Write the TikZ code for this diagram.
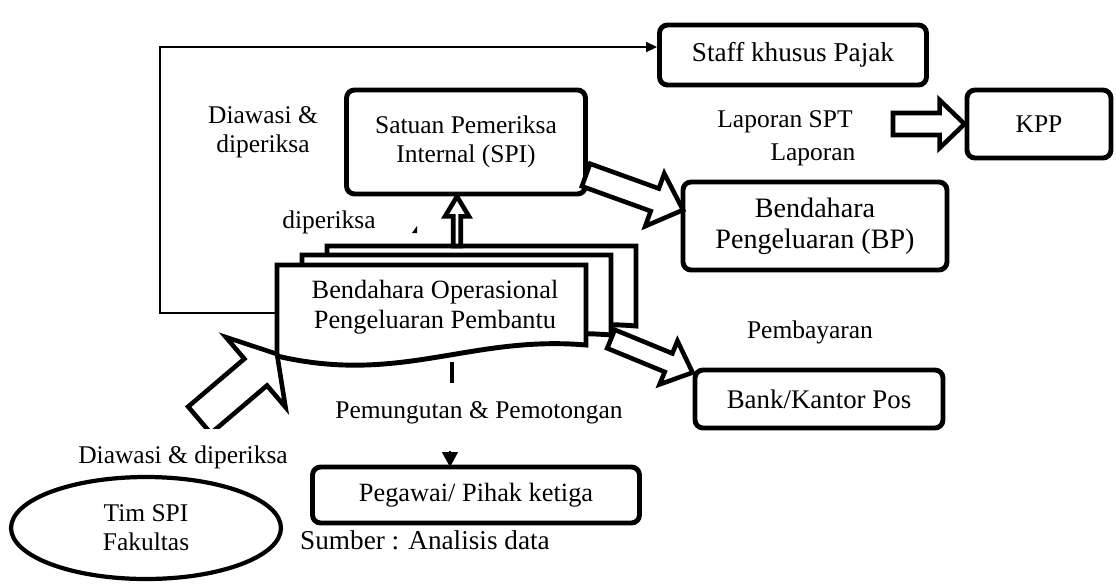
\documentclass[tikz,border=0pt]{standalone}
\usepackage{fontspec}
\setmainfont{Liberation Serif}
\usetikzlibrary{calc,arrows.meta,shapes.geometric,positioning}

\tikzset{
  box/.style={draw, line width=2.8pt, rounded corners=0.16cm, fill=white, align=center, inner sep=0pt},
  lbl/.style={align=center, inner sep=0pt},
  page/.style={draw, line width=2.8pt, fill=white, line join=miter},
  blockarrow/.style={draw, line width=2.6pt, fill=white, line join=miter},
  thinline/.style={line width=1pt},
}
% panah blok: dari #1 ke #2, setengah lebar batang #3, setengah lebar kepala #4, panjang kepala #5
\newcommand{\blockarr}[5]{%
  \path ($(#2)!#5!(#1)$) coordinate (hb);
  \draw[blockarrow] ($(#1)!#3!90:(#2)$) -- ($(hb)!#3!90:(#2)$) -- ($(hb)!#4!90:(#2)$)
    -- (#2) -- ($(hb)!#4!-90:(#2)$) -- ($(hb)!#3!-90:(#2)$) -- ($(#1)!#3!-90:(#2)$) -- cycle;
}

\begin{document}
\begin{tikzpicture}[x=0.02cm,y=-0.02cm,font=\fontsize{14.5}{16.5}\selectfont]
\useasboundingbox (0,0) rectangle (1117,583);

% kotak-kotak
\node[box, minimum width=5.34cm, minimum height=1.2cm, font=\fontsize{15.5}{17}\selectfont] (staff) at (793,55) {Staff khusus Pajak};
\node[box, minimum width=4.78cm, minimum height=2.08cm] (spi) at (466,142) {Satuan Pemeriksa\\Internal (SPI)};
\node[box, minimum width=2.88cm, minimum height=1.36cm] (kpp) at (1039,124) {KPP};
\node[box, minimum width=5.28cm, minimum height=1.76cm, font=\fontsize{16}{17.5}\selectfont] (bp) at (815,226) {Bendahara\\Pengeluaran (BP)};
\node[box, minimum width=4.96cm, minimum height=1.16cm, font=\fontsize{15.3}{17}\selectfont] (bank) at (819,399) {Bank/Kantor Pos};
\node[box, minimum width=6.54cm, minimum height=1.12cm, font=\fontsize{15}{17}\selectfont] (peg) at (476,495) {Pegawai/ Pihak ketiga};
\node[draw, ellipse, line width=2.4pt, minimum width=5.4cm, minimum height=2.04cm,
      align=center, inner sep=0pt] (tim) at (146,528) {Tim SPI\\Fakultas};

% dokumen bertumpuk
\foreach \dx/\dy in {50/-19,25/-10,0/0}
  \draw[page, shift={(\dx,\dy)}] (277,265) -- (586,265) -- (586,345)
    .. controls (470,335) and (400,385) .. (277,356) -- cycle;
\node[lbl, font=\fontsize{15}{17}\selectfont] (bop) at (435,307) {Bendahara Operasional\\Pengeluaran Pembantu};

% titik ujung
\coordinate (bopL) at (277,313);
\coordinate (bopB) at (452,362);
\coordinate (bopT) at (457,246);
\coordinate (bopR) at (611,339);
\coordinate (spiR) at (586,175);
\coordinate (bpIn) at (683,210);
\coordinate (sptOut) at (893,124);
\coordinate (timOut) at (199.5,420);
\coordinate (bopIn) at (277,354);
\coordinate (pegIn) at (450,467);

% garis tipis ke staff
\draw[thinline,-{Triangle[length=0.22cm,width=0.2cm]}] (bopL) -- ++(-117,0) |- ($(staff.west)+(0,-8)$);

% panah blok
\blockarr{spiR}{bpIn}{0.24cm}{0.56cm}{0.6cm}
\blockarr{sptOut}{kpp.west}{0.22cm}{0.48cm}{0.5cm}
\blockarr{bopT}{bopT |- spi.south}{0.075cm}{0.24cm}{0.4cm}
\blockarr{bopR}{$(bank.north west)+(0,5)$}{0.2cm}{0.47cm}{0.52cm}
\begin{scope}
  \clip (0,0) rectangle (1117,428);
  \blockarr{timOut}{bopIn}{0.35cm}{0.92cm}{0.56cm}
\end{scope}

% pemungutan ke pegawai
\draw[line width=2.2pt] (bopB) -- ++(0,21);
\draw[line width=0.6pt,-{Triangle[length=0.3cm,width=0.32cm]}] ($(pegIn)+(0,-16)$) -- (pegIn);
\fill (412,233) -- (417,226) -- (417,233) -- cycle;

% label
\node[lbl] (l-diawasi1) at (263,132) {Diawasi \&\\diperiksa};
\node[lbl] (l-diperiksa) at (329,222) {diperiksa};
\node[lbl] (l-spt) at (785,122) {Laporan SPT};
\node[lbl] (l-laporan) at (813,155) {Laporan};
\node[lbl] (l-bayar) at (810,332) {Pembayaran};
\node[lbl] (l-pungut) at (479,413) {Pemungutan \& Pemotongan};
\node[lbl] (l-diawasi2) at (183,457) {Diawasi \& diperiksa};
\node[lbl, font=\fontsize{15.5}{17}\selectfont] (l-sumber) at (425,540) {Sumber : Analisis data};

\end{tikzpicture}
\end{document}
